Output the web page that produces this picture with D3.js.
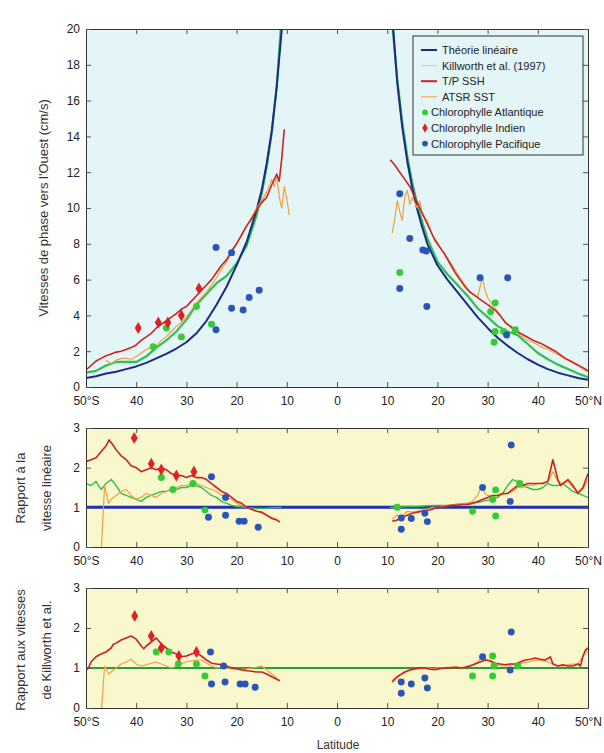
<!DOCTYPE html>
<html>
<head>
<meta charset="utf-8">
<script src="https://cdn.jsdelivr.net/npm/d3@7"></script>
<style>
  body { margin: 0; background: #fff; }
  svg { display: block; font-family: "Liberation Sans", Arial, sans-serif; }
</style>
</head>
<body>
<div id="container"></div>
<script>
// [latitude, value] pairs

// top panel: phase speed (cm/s)
const linearS = [[-50,0.5],[-48,0.6],[-46,0.75],[-44,0.85],[-42,1.0],[-40,1.15],[-38,1.35],[-36,1.6],[-34,1.85],[-32,2.15],[-30,2.5],[-28,3.0],[-26,3.7],[-24,4.6],[-22,5.6],[-20,6.8],[-18,8.1],[-16,9.9],[-15,11],[-14,12.5],[-13,14.3],[-12,16.8],[-11,20],[-10.5,22]];
const linearN = [[10.7,22],[11.2,20],[12,17],[13,14.5],[14,12.6],[15,11.1],[16,9.9],[17,8.9],[18,8.0],[20,6.8],[22,6.0],[24,5.3],[26,4.6],[28,3.9],[30,3.3],[32,2.75],[34,2.3],[36,1.9],[38,1.55],[40,1.25],[42,1.0],[44,0.8],[46,0.65],[48,0.5],[50,0.4]];
const killworthS = [[-50,0.8],[-48,0.9],[-46,1.2],[-44,1.4],[-42,1.4],[-40,1.4],[-38,1.7],[-36,2.2],[-34,2.6],[-32,3.1],[-30,3.75],[-28,4.6],[-26,5.2],[-24,5.8],[-22,6.2],[-20,6.9],[-18,7.9],[-16,9.6],[-15,10.8],[-14,12.3],[-13,14.2],[-12,16.8],[-11.2,20],[-10.7,22]];
const killworthN = [[10.6,22],[11.1,20],[12,17.2],[13,14.8],[14,12.9],[15,11.4],[16,10.2],[17,9.2],[18,8.3],[20,7.0],[22,6.3],[24,5.7],[26,5.1],[28,4.4],[30,3.9],[32,3.4],[34,3.1],[36,2.9],[38,2.4],[40,1.9],[42,1.55],[44,1.25],[46,1.0],[48,0.75],[50,0.55]];
const tpS = [[-50,0.95],[-49,1.2],[-48,1.45],[-47,1.6],[-46,1.75],[-45,1.85],[-44,1.95],[-43,2.0],[-42,2.1],[-41,2.2],[-40,2.35],[-39,2.6],[-38,2.8],[-37,3.0],[-36,3.3],[-35,3.5],[-34,3.7],[-33,3.9],[-32,4.1],[-31,4.35],[-30,4.5],[-29,4.8],[-28,5.1],[-27,5.4],[-26,5.7],[-25,6.0],[-24,6.4],[-23,6.8],[-22,7.1],[-21,7.6],[-20,8.0],[-19,8.5],[-18,9.0],[-17,9.4],[-16,9.9],[-15,10.3],[-14,10.6],[-13,11.3],[-12,11.9],[-11.5,11.5],[-11,12.8],[-10.5,14.4]];
const tpN = [[10.6,12.7],[11.5,12.4],[12.5,12.0],[13.5,11.6],[14.5,11.2],[15.5,10.6],[16.5,10.0],[17.5,9.4],[18.5,8.8],[19.5,8.2],[20.5,7.8],[21.5,7.4],[22.5,6.9],[23.5,6.4],[24.5,6.0],[25.5,5.6],[26.5,5.3],[27.5,5.1],[28.5,4.9],[29.5,4.7],[30.5,4.5],[31.5,4.3],[32.5,4.0],[33.5,3.6],[34.5,3.4],[35.5,3.2],[36.5,3.0],[37.5,2.85],[38.5,2.7],[39.5,2.55],[40.5,2.45],[41.5,2.3],[42.5,2.15],[43.5,2.0],[44.5,1.8],[45.5,1.6],[46.5,1.45],[47.5,1.3],[48.5,1.15],[49.5,1.0],[50,0.9]];
const atsrS = [[-46,1.5],[-45,1.3],[-44,1.5],[-43,1.6],[-42,1.6],[-41,1.55],[-40,1.7],[-39,1.9],[-38,2.1],[-37,2.2],[-36,2.3],[-35,2.6],[-34,2.8],[-33,3.1],[-32,3.4],[-31,3.6],[-30,3.9],[-29,4.3],[-28,4.7],[-27,5.0],[-26,5.3],[-25,5.7],[-24,6.1],[-23,6.6],[-22,7.0],[-21,7.5],[-20,8.0],[-19,8.5],[-18,9.0],[-17,9.5],[-16,10.0],[-15,10.4],[-14,10.9],[-13,11.6],[-12.5,11.2],[-12,11.8],[-11.5,10.6],[-11,10.0],[-10.5,11.2],[-10,10.5],[-9.5,9.6]];
const atsrN = [[11,8.6],[11.5,9.4],[12,10.4],[12.5,9.8],[13,9.3],[13.5,10.6],[14,11.0],[14.5,10.2],[15,10.6],[15.5,10.3],[16,10.0],[16.5,10.4],[17,9.6],[18,9.3],[19,8.5],[20,8.1],[21,7.6],[22,7.2],[23,6.8],[24,6.3],[25,5.9],[26,5.5],[27,5.2],[28,5.0],[28.5,5.6],[29,6.1],[29.5,5.4],[30,5.0],[31,4.6],[32,4.2],[33,3.8],[34,3.5],[35,3.2],[36,3.0],[37,2.8],[38,2.6],[39,2.5],[40,2.35],[41,2.2],[42,2.1],[43,1.95],[44,1.8],[45,1.65],[46,1.5],[47,1.35],[48,1.2],[49,1.0],[50,0.85]];
const chlAtlTop = [[-36.6,2.25],[-34,3.3],[-31,2.8],[-28,4.5],[-25,3.5],[12.5,6.4],[30.6,4.2],[31.5,4.7],[31.5,3.1],[33.2,3.1],[35.5,3.2],[31.3,2.5]];
const chlIndTop = [[-39.6,3.3],[-35.6,3.6],[-33.7,3.6],[-31,4.0],[-27.5,5.5]];
const chlPacTop = [[-24.1,7.8],[-21,7.5],[-15.5,5.4],[-17.5,5.0],[-21,4.4],[-18.7,4.3],[-24.1,3.2],[12.5,10.8],[14.5,8.3],[17.1,7.65],[17.8,7.6],[12.5,5.5],[17.9,4.5],[28.5,6.1],[34,6.1],[33.8,2.9]];

// middle panel: ratio to linear speed
const tpLinS = [[-50,2.15],[-49,2.2],[-48,2.25],[-47,2.4],[-46,2.55],[-45.4,2.7],[-44.5,2.55],[-44,2.45],[-43,2.3],[-42,2.2],[-41,2.05],[-40,2.0],[-39,1.9],[-38,1.95],[-37,2.0],[-36,1.95],[-35,2.0],[-34,1.95],[-33,1.85],[-32,1.8],[-31,1.8],[-30,1.75],[-29,1.8],[-28,1.75],[-27,1.75],[-26,1.7],[-25,1.6],[-24,1.5],[-23,1.4],[-22,1.35],[-21,1.25],[-20,1.15],[-19,1.1],[-18,1.0],[-17,0.95],[-16,0.9],[-15,0.88],[-14,0.8],[-13,0.72],[-12,0.68],[-11.4,0.63]];
const tpLinN = [[11,0.65],[12,0.68],[13,0.75],[14,0.8],[15,0.85],[16,0.88],[17,0.9],[18,0.92],[19,0.95],[20,1.0],[21,1.0],[22,1.03],[23,1.05],[24,1.05],[25,1.07],[26,1.07],[27,1.1],[28,1.15],[29,1.2],[30,1.25],[31,1.3],[32,1.3],[33,1.35],[34,1.35],[35,1.45],[36,1.55],[37,1.55],[38,1.6],[39,1.6],[40,1.6],[41,1.6],[42,1.65],[43,2.2],[44,1.7],[44.5,1.55],[45,1.6],[46,1.7],[47,1.55],[48,1.35],[49,1.5],[50,1.85]];
const atsrLinS = [[-47,-0.2],[-46.3,1.55],[-45.5,1.1],[-45,1.2],[-44,1.3],[-43,1.4],[-42,1.45],[-41,1.3],[-40,1.2],[-39,1.25],[-38,1.35],[-37,1.3],[-36,1.25],[-35,1.35],[-34,1.4],[-33,1.45],[-32,1.5],[-31,1.55],[-30,1.55],[-29,1.6],[-28,1.6],[-27,1.55],[-26,1.5],[-25,1.45],[-24,1.4],[-23,1.3],[-22,1.25],[-21,1.2],[-20,1.1],[-19,1.05],[-18,1.0],[-17,0.95],[-16,0.9],[-15,0.85],[-14,0.8],[-13,0.75],[-12,0.7]];
const atsrLinN = [[11,0.7],[12,0.8],[13,0.78],[14,0.9],[15,0.88],[16,0.9],[17,0.95],[18,0.95],[19,1.0],[20,1.0],[21,1.02],[22,1.05],[23,1.05],[24,1.08],[25,1.1],[26,1.1],[27,1.15],[28,1.3],[28.5,1.45],[29,1.5],[29.5,1.35],[30,1.3],[31,1.28],[32,1.3],[33,1.32],[34,1.35],[35,1.4],[36,1.5],[37,1.5],[38,1.55],[39,1.55],[40,1.6],[41,1.62],[42,1.65],[43,1.9],[44,1.65],[45,1.6],[46,1.65],[47,1.5],[48,1.4],[49,1.45],[50,1.7]];
const kwLinS = [[-50,1.6],[-49,1.55],[-48,1.65],[-47,1.45],[-46,1.6],[-45,1.7],[-44,1.55],[-43,1.35],[-42,1.3],[-41,1.25],[-40,1.2],[-39,1.15],[-38,1.25],[-37,1.3],[-36,1.35],[-35,1.4],[-34,1.4],[-33,1.45],[-32,1.45],[-31,1.5],[-30,1.5],[-29,1.55],[-28,1.55],[-27,1.5],[-26,1.4],[-25,1.3],[-24,1.25],[-23,1.15],[-22,1.1],[-21,1.05],[-20,1.02],[-18,1.0],[-16,0.97],[-14,0.98],[-12,1.0],[-11,1.0]];
const kwLinN = [[10.5,1.0],[12,1.0],[14,1.02],[16,1.02],[18,1.04],[20,1.05],[22,1.05],[24,1.08],[26,1.1],[28,1.12],[30,1.18],[32,1.25],[33,1.35],[34,1.55],[35,1.7],[36,1.65],[37,1.55],[38,1.5],[39,1.45],[40,1.45],[41,1.5],[42,1.6],[43,1.55],[44,1.55],[45,1.6],[46,1.5],[47,1.4],[48,1.35],[49,1.3],[50,1.25]];
const chlAtlLin = [[-35,1.75],[-32.7,1.45],[-28.7,1.6],[-26.3,0.93],[12,1.0],[27,0.9],[31.6,1.44],[31.6,0.78],[36.4,1.6],[31,1.2]];
const chlIndLin = [[-40.4,2.75],[-37,2.1],[-35,1.95],[-32,1.8],[-28.5,1.9]];
const chlPacLin = [[-25,1.77],[-22.2,1.25],[-25.6,0.75],[-22.2,0.8],[-19.5,0.65],[-18.5,0.65],[-15.7,0.5],[12.8,0.73],[12.8,0.45],[14.8,0.72],[18,0.64],[17.5,0.85],[29,1.5],[34.7,2.57],[34.5,1.15]];

// bottom panel: ratio to Killworth et al. speed
const tpKilS = [[-50,0.95],[-49.5,1.0],[-49,1.15],[-48,1.28],[-47,1.35],[-46,1.4],[-45,1.5],[-44.5,1.6],[-44,1.62],[-43,1.7],[-42,1.75],[-41,1.8],[-40,1.72],[-39,1.55],[-38.5,1.48],[-38,1.55],[-37,1.65],[-36,1.75],[-35,1.6],[-34,1.5],[-33,1.4],[-32,1.35],[-31,1.28],[-30,1.3],[-29,1.35],[-28,1.38],[-27,1.3],[-26,1.2],[-25,1.12],[-24,1.1],[-23,1.08],[-22,1.05],[-21,1.0],[-20,0.98],[-19,0.95],[-18,0.93],[-17,0.92],[-16,0.9],[-15,0.9],[-14,0.85],[-13,0.78],[-12,0.72],[-11.4,0.68]];
const tpKilN = [[11,0.65],[11.5,0.72],[12.5,0.82],[13.5,0.9],[14.5,0.95],[15.5,0.98],[16.5,1.0],[17.5,1.0],[18.5,0.97],[19.5,0.96],[20.5,0.98],[21.5,1.0],[22.5,1.0],[23.5,1.02],[24.5,1.0],[25.5,1.02],[26.5,1.05],[27.5,1.1],[28.5,1.15],[29.5,1.2],[30.5,1.18],[31.5,1.12],[32.5,1.1],[33.5,1.08],[34.5,1.1],[35.5,1.1],[36.5,1.15],[37.5,1.2],[38.5,1.22],[39.5,1.25],[40.5,1.22],[41.5,1.2],[42.5,1.28],[43,1.1],[44,1.05],[45,1.08],[46,1.05],[47,1.05],[48,1.1],[48.5,1.05],[49,1.3],[49.5,1.45],[50,1.5]];
const atsrKilS = [[-47,-0.2],[-46.3,1.05],[-45.5,0.85],[-45,0.9],[-44,1.0],[-43,1.1],[-42,1.15],[-41,1.22],[-40,1.1],[-39,1.05],[-38,1.08],[-37,1.12],[-36,1.15],[-35,1.1],[-34,1.05],[-33,1.0],[-32,1.05],[-31,1.1],[-30,1.15],[-29,1.18],[-28,1.2],[-27,1.2],[-26,1.12],[-25,1.05],[-24,1.0],[-23,1.02],[-22,1.0],[-21,0.98],[-20,0.98],[-19,0.96],[-18,0.97],[-17,1.0],[-16,1.02],[-15,1.05],[-14,0.95],[-13,0.85],[-12,0.75]];
const atsrKilN = [[11,0.68],[12,0.8],[13,0.85],[14,0.92],[15,0.95],[16,0.97],[17,0.98],[18,1.0],[19,0.98],[20,1.0],[21,1.0],[22,1.02],[23,1.02],[24,1.03],[25,1.0],[26,1.05],[27,1.08],[28,1.15],[29,1.28],[30,1.2],[31,1.12],[32,1.08],[33,1.05],[34,1.05],[35,1.08],[36,1.1],[37,1.12],[38,1.15],[39,1.18],[40,1.2],[41,1.18],[42,1.15],[43,1.1],[44,1.05],[45,1.05],[46,1.08],[47,1.1],[48,1.1],[49,1.3],[50,1.45]];
const chlAtlKil = [[-36,1.4],[-33.5,1.4],[-31.6,1.1],[-28,1.1],[-26.3,0.8],[27,0.8],[31,1.3],[31.3,1.05],[31,0.8],[36,1.05]];
const chlIndKil = [[-40.3,2.3],[-37,1.8],[-35,1.5],[-31.5,1.3],[-28,1.4]];
const chlPacKil = [[-25.2,1.4],[-22.6,1.05],[-25,0.6],[-22.3,0.65],[-19.3,0.6],[-18.3,0.6],[-16.3,0.52],[12.8,0.37],[12.8,0.65],[14.8,0.6],[17.5,0.75],[18,0.5],[29,1.28],[34.7,1.9],[34.5,0.95]];

const unitLine = [[-50,1],[50,1]];

const latTicks = [-50,-40,-30,-20,-10,0,10,20,30,40,50];
const speedTicks = [0,2,4,6,8,10,12,14,16,18,20];
const ratioTicks = [0,1,2,3];

const legendLabels = ["Théorie linéaire","Killworth et al. (1997)","T/P SSH","ATSR SST","Chlorophylle Atlantique","Chlorophylle Indien","Chlorophylle Pacifique"];

const colors = {
  linear: "#1c2a86",
  killworth: "#2fbf4f",
  tp: "#cc2222",
  atsr: "#f0a040",
  atl: "#33cc33",
  ind: "#dd2222",
  pac: "#2a55b8",
};

const svg = d3.select("#container").append("svg").attr("width", 604).attr("height", 753);

const x = d3.scaleLinear().domain([-50, 50]).range([86, 588]);
const latFormat = (d) => (d === -50 ? "50°S" : d === 50 ? "50°N" : String(Math.abs(d)));

function drawPanel(id, top, bottom, maxV, ticks, bg) {
  const y = d3.scaleLinear().domain([0, maxV]).range([bottom, top]);

  svg.append("rect")
    .attr("x", x(-50)).attr("y", top)
    .attr("width", x(50) - x(-50)).attr("height", bottom - top)
    .attr("fill", bg);

  svg.append("clipPath").attr("id", id)
    .append("rect")
    .attr("x", x(-50)).attr("y", top)
    .attr("width", x(50) - x(-50)).attr("height", bottom - top);

  const g = svg.append("g").attr("clip-path", `url(#${id})`);

  const axes = [
    d3.axisBottom(x).tickValues(latTicks).tickFormat(latFormat),
    d3.axisTop(x).tickValues(latTicks).tickFormat(""),
    d3.axisLeft(y).tickValues(ticks).tickFormat(d3.format("d")),
    d3.axisRight(y).tickValues(ticks).tickFormat(""),
  ];
  const shifts = [`translate(0,${bottom})`, `translate(0,${top})`, `translate(${x(-50)},0)`, `translate(${x(50)},0)`];

  const frame = svg.append("g");
  axes.forEach((axis, i) => {
    const a = frame.append("g")
      .attr("transform", shifts[i])
      .call(axis.tickSizeInner(-5).tickSizeOuter(0).tickPadding(i === 0 ? 9 : 6));
    a.select(".domain").attr("stroke", "#333");
    a.selectAll(".tick line").attr("stroke", "#555");
    a.selectAll(".tick text").attr("font-size", 12).attr("fill", "#222")
      .attr("font-family", "Liberation Sans, Arial, sans-serif");
  });

  return { g, y };
}

function addLine(p, data, color, w) {
  p.g.append("path")
    .datum(data)
    .attr("fill", "none")
    .attr("stroke", color)
    .attr("stroke-width", w)
    .attr("stroke-linejoin", "round")
    .attr("d", d3.line().x((d) => x(d[0])).y((d) => p.y(d[1])));
}

function addPoints(p, data, color, shape) {
  p.g.selectAll(null)
    .data(data)
    .join("path")
    .attr("transform", (d) => `translate(${x(d[0])},${p.y(d[1])})`)
    .attr("d", d3.symbol().type(shape).size(shape === d3.symbolDiamond ? 42 : 38))
    .attr("fill", color);
}

// top panel
const speedPanel = drawPanel("clipTop", 29, 387, 20, speedTicks, "#e4f5f8");
addLine(speedPanel, killworthS, colors.killworth, 2.2);
addLine(speedPanel, killworthN, colors.killworth, 2.2);
addLine(speedPanel, linearS, colors.linear, 2);
addLine(speedPanel, linearN, colors.linear, 2);
addLine(speedPanel, atsrS, colors.atsr, 1.2);
addLine(speedPanel, atsrN, colors.atsr, 1.2);
addLine(speedPanel, tpS, colors.tp, 1.6);
addLine(speedPanel, tpN, colors.tp, 1.6);
addPoints(speedPanel, chlAtlTop, colors.atl, d3.symbolCircle);
addPoints(speedPanel, chlIndTop, colors.ind, d3.symbolDiamond);
addPoints(speedPanel, chlPacTop, colors.pac, d3.symbolCircle);

// middle panel
const linPanel = drawPanel("clipMid", 428, 547, 3, ratioTicks, "#f8f8cc");
addLine(linPanel, unitLine, "#2030b0", 3);
addLine(linPanel, kwLinS, colors.killworth, 1.4);
addLine(linPanel, kwLinN, colors.killworth, 1.4);
addLine(linPanel, atsrLinS, colors.atsr, 1.2);
addLine(linPanel, atsrLinN, colors.atsr, 1.2);
addLine(linPanel, tpLinS, colors.tp, 1.6);
addLine(linPanel, tpLinN, colors.tp, 1.6);
addPoints(linPanel, chlAtlLin, colors.atl, d3.symbolCircle);
addPoints(linPanel, chlIndLin, colors.ind, d3.symbolDiamond);
addPoints(linPanel, chlPacLin, colors.pac, d3.symbolCircle);

// bottom panel
const kilPanel = drawPanel("clipBot", 588, 708, 3, ratioTicks, "#f8f8cc");
addLine(kilPanel, unitLine, "#2e9a3a", 2);
addLine(kilPanel, atsrKilS, colors.atsr, 1.2);
addLine(kilPanel, atsrKilN, colors.atsr, 1.2);
addLine(kilPanel, tpKilS, colors.tp, 1.6);
addLine(kilPanel, tpKilN, colors.tp, 1.6);
addPoints(kilPanel, chlAtlKil, colors.atl, d3.symbolCircle);
addPoints(kilPanel, chlIndKil, colors.ind, d3.symbolDiamond);
addPoints(kilPanel, chlPacKil, colors.pac, d3.symbolCircle);

// axis titles
function vText(tx, ty, label) {
  svg.append("text")
    .attr("transform", `translate(${tx},${ty}) rotate(-90)`)
    .attr("text-anchor", "middle")
    .attr("font-size", 13)
    .attr("fill", "#333")
    .text(label);
}
vText(48, 208, "Vitesses de phase vers l'Ouest (cm/s)");
vText(25, 488, "Rapport à la");
vText(51, 488, "vitesse linéaire");
vText(25, 650, "Rapport aux vitesses");
vText(51, 650, "de Killworth et al.");

svg.append("text")
  .attr("x", 338).attr("y", 749)
  .attr("text-anchor", "middle")
  .attr("font-size", 12)
  .attr("fill", "#333")
  .text("Latitude");

// legend
const legend = svg.append("g");
legend.append("rect")
  .attr("x", 413).attr("y", 36).attr("width", 170).attr("height", 119)
  .attr("fill", "#e4f5f8").attr("stroke", "#333");

const legendStyles = [
  { color: colors.linear, w: 2 },
  { color: "#9fe3c0", w: 1 },
  { color: colors.tp, w: 2 },
  { color: colors.atsr, w: 1 },
  { color: colors.atl, shape: d3.symbolCircle },
  { color: colors.ind, shape: d3.symbolDiamond },
  { color: colors.pac, shape: d3.symbolCircle },
];

legendLabels.forEach((label, i) => {
  const ly = 50 + i * 15.6;
  const s = legendStyles[i];
  if (s.shape) {
    legend.append("path")
      .attr("transform", `translate(425,${ly})`)
      .attr("d", d3.symbol().type(s.shape).size(26))
      .attr("fill", s.color);
  } else {
    legend.append("line")
      .attr("x1", 421).attr("x2", 437).attr("y1", ly).attr("y2", ly)
      .attr("stroke", s.color).attr("stroke-width", s.w);
  }
  legend.append("text")
    .attr("x", s.shape ? 431 : 442).attr("y", ly + 4)
    .attr("font-size", 11)
    .attr("fill", "#222")
    .text(label);
});
</script>
</body>
</html>
